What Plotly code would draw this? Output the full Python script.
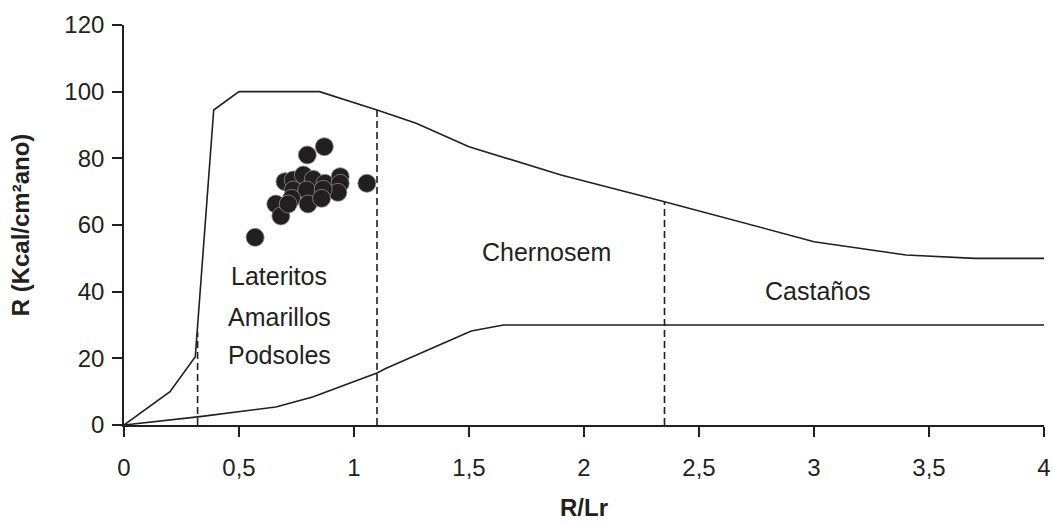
import plotly.graph_objects as go

# Upper boundary curve (R/Lr vs R)
upper_x = [0, 0.2, 0.31, 0.39, 0.5, 0.85, 1.1, 1.27, 1.5, 1.9, 2.35, 3.0, 3.4, 3.7, 4.0]
upper_y = [0, 10, 20.5, 94.5, 100, 100, 94.5, 90.5, 83.5, 75, 67, 55, 51, 50, 50]

# Lower boundary curve
lower_x = [0, 0.33, 0.66, 0.82, 1.1, 1.14, 1.51, 1.65, 4.0]
lower_y = [0, 2.5, 5.4, 8.4, 15.6, 17, 28.2, 30, 30]

# Zone dividers: x position and top of the dashed segment
divider_x = [0.32, 1.1, 2.35]
divider_top = [28, 94.5, 67]

# Observed points
obs_x = [0.57, 0.66, 0.682, 0.797, 0.871, 1.056, 0.70, 0.736, 0.78, 0.823, 0.874,
         0.94, 0.94, 0.93, 0.736, 0.794, 0.866, 0.729, 0.80, 0.859, 0.714]
obs_y = [56.3, 66.3, 62.7, 81, 83.5, 72.5, 73, 73.5, 75, 73.7, 72.5,
         74.5, 72.5, 69.8, 70.5, 70.5, 70.7, 68, 66.3, 68, 66.3]

# Zone labels
zone_text = ["Lateritos", "Amarillos", "Podsoles", "Chernosem", "Castaños"]
zone_x = [0.674, 0.674, 0.674, 1.839, 3.017]
zone_y = [44.7, 32.4, 21, 51.9, 40.2]

x_ticks = [0, 0.5, 1, 1.5, 2, 2.5, 3, 3.5, 4]
x_tick_text = ["0", "0,5", "1", "1,5", "2", "2,5", "3", "3,5", "4"]
y_ticks = [0, 20, 40, 60, 80, 100, 120]

INK = "#231f20"
FONT = "Liberation Sans, Arial, sans-serif"

fig = go.Figure()

fig.add_trace(go.Scatter(x=upper_x, y=upper_y, mode="lines",
                         line=dict(color=INK, width=1.6), showlegend=False))
fig.add_trace(go.Scatter(x=lower_x, y=lower_y, mode="lines",
                         line=dict(color=INK, width=1.6), showlegend=False))

for dx, top in zip(divider_x, divider_top):
    fig.add_trace(go.Scatter(x=[dx, dx], y=[0, top], mode="lines",
                             line=dict(color=INK, width=1.6, dash="7px,4px"),
                             showlegend=False))

fig.add_trace(go.Scatter(x=obs_x, y=obs_y, mode="markers",
                         marker=dict(size=18, color=INK,
                                     line=dict(color="#8a8a8a", width=0.8)),
                         showlegend=False))

for t, x, y in zip(zone_text, zone_x, zone_y):
    fig.add_annotation(x=x, y=y, text=t, showarrow=False,
                       font=dict(family=FONT, size=25, color=INK))

fig.update_xaxes(range=[0, 4], tickvals=x_ticks, ticktext=x_tick_text,
                 automargin=False,
                 showgrid=False, zeroline=False, showline=True,
                 linecolor=INK, linewidth=1.6, ticks="outside", ticklen=10,
                 tickwidth=1.6, tickcolor=INK, ticklabelstandoff=10,
                 tickfont=dict(family=FONT, size=24, color=INK),
                 title=dict(text="<b>R/Lr</b>", standoff=20,
                            font=dict(family=FONT, size=24, color=INK)))
fig.update_yaxes(range=[0, 120], tickvals=y_ticks,
                 automargin=False,
                 showgrid=False, zeroline=False, showline=True,
                 linecolor=INK, linewidth=1.6, ticks="outside", ticklen=10,
                 tickwidth=1.6, tickcolor=INK, ticklabelstandoff=3,
                 tickfont=dict(family=FONT, size=24, color=INK),
                 title=dict(text="<b>R (Kcal/cm²ano)</b>", standoff=28,
                            font=dict(family=FONT, size=24, color=INK)))

fig.update_layout(width=1053, height=525,
                  margin=dict(l=124, r=9, t=25, b=100),
                  plot_bgcolor="white", paper_bgcolor="white")

fig.write_html("out.html")
